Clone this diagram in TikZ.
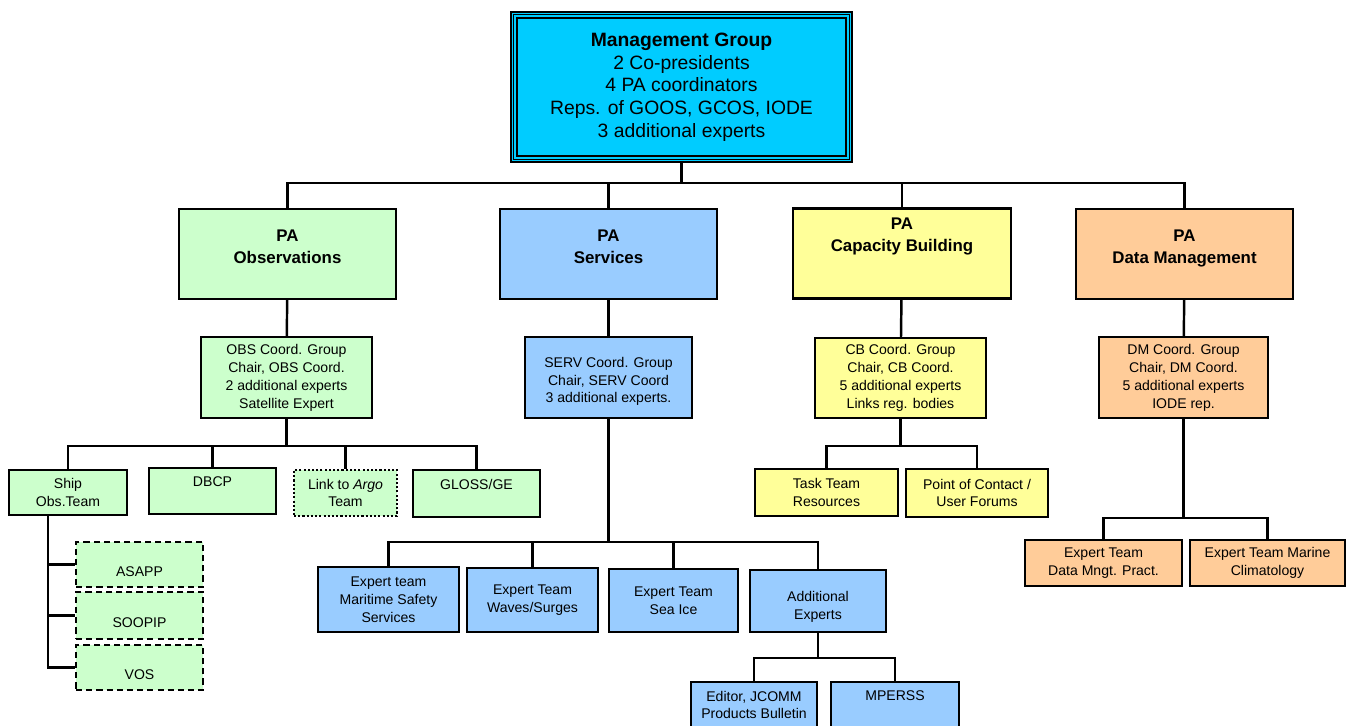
\documentclass[tikz,border=0pt]{standalone}
\usepackage{fontspec}
\setmainfont{Liberation Sans}
\usetikzlibrary{positioning, calc}

\definecolor{mgcyan}{RGB}{0,204,255}
\definecolor{obsgreen}{RGB}{204,255,204}
\definecolor{servblue}{RGB}{153,204,255}
\definecolor{cbyellow}{RGB}{255,255,153}
\definecolor{dmorange}{RGB}{255,204,153}

\begin{document}
\begin{tikzpicture}[x=0.02cm, y=-0.02cm,
            box/.style={rectangle, draw=black, line width=1.4pt, align=center, inner sep=1pt, font=\fontsize{8}{10.2}\selectfont},
            pabox/.style={box, minimum width=4.34cm, minimum height=1.8cm, font=\fontsize{9.6}{12.5}\selectfont\bfseries},
            coordbox/.style={box, minimum width=3.42cm, minimum height=1.62cm},
            dashbox/.style={box, dash pattern=on 3.5pt off 2.3pt},
            dotbox/.style={box, dash pattern=on 1.2pt off 1.2pt},
            link/.style={line width=1.4pt}
        ]
\useasboundingbox (0,0) rectangle (1355,726);

% Management group
\node[box, fill=mgcyan, minimum width=6.82cm, minimum height=3cm, font=\fontsize{11}{12.9}\selectfont] (mgmt) at (681.5,87) {\textbf{Management Group}\\2 Co-presidents\\4 PA coordinators\\Reps. of GOOS, GCOS, IODE\\3 additional experts};
\draw[line width=0.6pt] ([shift={(4,4)}]mgmt.north west) rectangle ([shift={(-4,-4)}]mgmt.south east);
\draw[line width=1.1pt] ([shift={(7,7)}]mgmt.north west) rectangle ([shift={(-7,-7)}]mgmt.south east);

% Programme areas
\node[pabox, fill=obsgreen] (paobs) at (287.5,254) {PA\\Observations\\[-4pt]\mbox{}};
\node[pabox, fill=servblue] (paserv) at (608.5,254) {PA\\Services\\[-4pt]\mbox{}};
\node[pabox, fill=cbyellow, minimum width=4.36cm] (pacb) at (902,253.5) {PA\\Capacity Building\\[9pt]\mbox{}};
\node[pabox, fill=dmorange] (padm) at (1184.5,254) {PA\\Data Management\\[-4pt]\mbox{}};

% Coordination groups
\node[coordbox, fill=obsgreen] (obsc) at (286.5,377.5) {OBS Coord. Group\\Chair, OBS Coord.\\2 additional experts\\Satellite Expert};
\node[coordbox, fill=servblue, minimum width=3.34cm] (servc) at (608.5,377.5) {\mbox{}\\SERV Coord. Group\\Chair, SERV Coord\\3 additional experts.};
\node[coordbox, fill=cbyellow, minimum height=1.6cm] (cbc) at (900.5,378) {CB Coord. Group\\Chair, CB Coord.\\5 additional experts\\Links reg. bodies};
\node[coordbox, fill=dmorange, minimum width=3.38cm] (dmc) at (1183.5,377.5) {DM Coord. Group\\Chair, DM Coord.\\5 additional experts\\IODE rep.};

% Observations teams
\node[box, fill=obsgreen, minimum width=2.36cm, minimum height=0.9cm] (ship) at (68,492.5) {Ship\\Obs.Team};
\node[box, fill=obsgreen, minimum width=2.54cm, minimum height=0.92cm] (dbcp) at (212.5,491) {DBCP\\\mbox{}};
\node[dotbox, fill=obsgreen, minimum width=2.06cm, minimum height=0.92cm] (argo) at (345.5,493) {Link to \textit{Argo}\\Team};
\node[box, fill=obsgreen, minimum width=2.54cm, minimum height=0.94cm] (gloss) at (476.5,493.5) {GLOSS/GE\\\mbox{}};
\node[dashbox, fill=obsgreen, minimum width=2.54cm, minimum height=0.9cm] (asapp) at (139.5,564.5) {\mbox{}\\[4pt]ASAPP};
\node[dashbox, fill=obsgreen, minimum width=2.54cm, minimum height=0.94cm] (soopip) at (139.5,615.5) {\mbox{}\\[4pt]SOOPIP};
\node[dashbox, fill=obsgreen, minimum width=2.54cm, minimum height=0.9cm] (vos) at (139.5,667.5) {\mbox{}\\[4pt]VOS};

% Services teams
\node[box, fill=servblue, minimum width=2.82cm, minimum height=1.3cm] (etmss) at (388.5,599.5) {Expert team\\Maritime Safety\\Services};
\node[box, fill=servblue, minimum width=2.62cm, minimum height=1.28cm] (etws) at (532.5,600) {Expert Team\\Waves/Surges};
\node[box, fill=servblue, minimum width=2.58cm, minimum height=1.26cm] (etsi) at (673.5,600.5) {Expert Team\\Sea Ice};
\node[box, fill=servblue, minimum width=2.72cm, minimum height=1.24cm] (addexp) at (818,601) {\mbox{}\\[2pt]Additional\\Experts};
\node[box, fill=servblue, minimum width=2.52cm, minimum height=0.92cm] (editor) at (754,705) {Editor, JCOMM\\Products Bulletin};
\node[box, fill=servblue, minimum width=2.56cm, minimum height=0.92cm] (mperss) at (895,705) {MPERSS\\\mbox{}};

% Capacity building teams
\node[box, fill=cbyellow, minimum width=2.86cm, minimum height=0.94cm] (ttr) at (826.5,492.5) {Task Team\\Resources};
\node[box, fill=cbyellow, minimum width=2.84cm, minimum height=0.96cm] (poc) at (977,493) {Point of Contact /\\User Forums};

% Data management teams
\node[box, fill=dmorange, minimum width=3.14cm, minimum height=0.92cm] (etdm) at (1103.5,563) {Expert Team\\Data Mngt. Pract.};
\node[box, fill=dmorange, minimum width=3.1cm, minimum height=0.92cm] (etmc) at (1267.5,563) {Expert Team Marine\\Climatology};

% Links
\draw[link] (mgmt.south) -- ++(0,20) -| (paobs.north);
\draw[link] (mgmt.south) -- ++(0,20) -| (paserv.north);
\draw[link] (mgmt.south) -- ++(0,20) -| (pacb.north);
\draw[link] (mgmt.south) -- ++(0,20) -| (padm.north);

\draw[link] (paobs) -- (obsc);
\draw[link] (paserv) -- (servc);
\draw[link] (pacb) -- (cbc);
\draw[link] (padm) -- (dmc);

\draw[link] (obsc.south) -- ++(0,27) -| (ship.north);
\draw[link] (obsc.south) -- ++(0,27) -| (dbcp.north);
\draw[link] (obsc.south) -- ++(0,27) -| (argo.north);
\draw[link] (obsc.south) -- ++(0,27) -| (gloss.north);
\coordinate (shiptrunk) at ([xshift=-0.4cm]ship.south);
\draw[link] (shiptrunk) |- (asapp.west);
\draw[link] (shiptrunk) |- (soopip.west);
\draw[link] (shiptrunk) |- (vos.west);

\draw[link] (servc.south) -- ++(0,123) -| (etmss.north);
\draw[link] (servc.south) -- ++(0,123) -| (etws.north);
\draw[link] (servc.south) -- ++(0,123) -| (etsi.north);
\draw[link] (servc.south) -- ++(0,123) -| (addexp.north);
\draw[link] (addexp.south) -- ++(0,25) -| (editor.north);
\draw[link] (addexp.south) -- ++(0,25) -| (mperss.north);

\draw[link] (cbc.south) -- ++(0,27) -| (ttr.north);
\draw[link] (cbc.south) -- ++(0,27) -| (poc.north);

\draw[link] (dmc.south) -- ++(0,99) -| (etdm.north);
\draw[link] (dmc.south) -- ++(0,99) -| (etmc.north);

\end{tikzpicture}
\end{document}
